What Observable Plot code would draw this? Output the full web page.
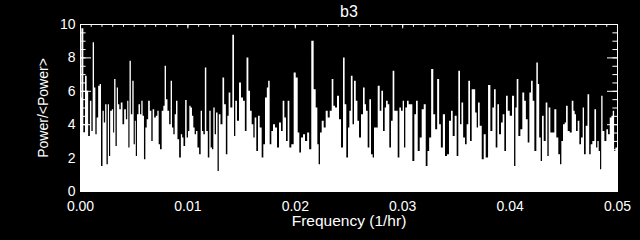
<!DOCTYPE html>
<html><head><meta charset="utf-8">
<script src="https://cdn.jsdelivr.net/npm/d3@7"></script>
<script src="https://cdn.jsdelivr.net/npm/@observablehq/plot@0.6"></script>
<style>
html,body{margin:0;padding:0;background:#000;}
#chart svg{display:block;}
</style></head><body><div id="chart"></div>
<script>
// Periodogram "b3": frequency (1/hr) and normalised power
const freq = [
0.00000,0.00025,0.00037,0.00056,0.00068,0.00084,0.00100,0.00112,0.00124,0.00137,
0.00149,0.00161,0.00177,0.00189,0.00202,0.00217,0.00226,0.00242,0.00251,0.00267,
0.00273,0.00289,0.00304,0.00313,0.00323,0.00338,0.00347,0.00360,0.00372,0.00388,
0.00403,0.00419,0.00435,0.00444,0.00456,0.00466,0.00481,0.00493,0.00506,0.00515,
0.00524,0.00537,0.00552,0.00565,0.00577,0.00589,0.00602,0.00615,0.00627,0.00642,
0.00658,0.00670,0.00683,0.00698,0.00714,0.00726,0.00739,0.00751,0.00770,0.00782,
0.00794,0.00807,0.00822,0.00838,0.00850,0.00863,0.00875,0.00888,0.00900,0.00915,
0.00931,0.00947,0.00956,0.00971,0.00987,0.00999,0.01012,0.01024,0.01036,0.01049,
0.01061,0.01074,0.01086,0.01101,0.01117,0.01130,0.01142,0.01155,0.01170,0.01182,
0.01198,0.01210,0.01223,0.01235,0.01248,0.01260,0.01273,0.01288,0.01297,0.01319,
0.01334,0.01350,0.01366,0.01378,0.01390,0.01409,0.01428,0.01440,0.01452,0.01471,
0.01490,0.01508,0.01527,0.01543,0.01558,0.01577,0.01589,0.01608,0.01620,0.01632,
0.01651,0.01664,0.01682,0.01701,0.01713,0.01732,0.01747,0.01757,0.01775,0.01788,
0.01806,0.01825,0.01844,0.01862,0.01881,0.01893,0.01912,0.01924,0.01943,0.01955,
0.01980,0.01999,0.02018,0.02036,0.02048,0.02067,0.02086,0.02104,0.02126,0.02141,
0.02166,0.02185,0.02204,0.02216,0.02228,0.02241,0.02260,0.02278,0.02297,0.02316,
0.02334,0.02353,0.02365,0.02384,0.02402,0.02421,0.02440,0.02458,0.02470,0.02489,
0.02502,0.02514,0.02530,0.02545,0.02558,0.02577,0.02589,0.02607,0.02626,0.02644,
0.02657,0.02669,0.02688,0.02700,0.02719,0.02731,0.02744,0.02763,0.02781,0.02800,
0.02812,0.02831,0.02843,0.02856,0.02874,0.02886,0.02905,0.02917,0.02936,0.02949,
0.02967,0.02980,0.02998,0.03011,0.03023,0.03035,0.03054,0.03066,0.03085,0.03104,
0.03122,0.03135,0.03154,0.03172,0.03191,0.03210,0.03228,0.03243,0.03259,0.03280,
0.03299,0.03315,0.03336,0.03352,0.03368,0.03389,0.03408,0.03426,0.03445,0.03464,
0.03476,0.03501,0.03513,0.03532,0.03544,0.03560,0.03575,0.03594,0.03606,0.03625,
0.03638,0.03656,0.03672,0.03687,0.03700,0.03712,0.03731,0.03750,0.03768,0.03787,
0.03812,0.03830,0.03849,0.03861,0.03880,0.03892,0.03911,0.03929,0.03942,0.03960,
0.03973,0.03992,0.04010,0.04035,0.04048,0.04060,0.04072,0.04091,0.04109,0.04128,
0.04144,0.04159,0.04178,0.04190,0.04209,0.04221,0.04240,0.04258,0.04268,0.04283,
0.04296,0.04308,0.04327,0.04345,0.04358,0.04370,0.04389,0.04407,0.04426,0.04444,
0.04463,0.04476,0.04488,0.04507,0.04519,0.04532,0.04550,0.04569,0.04588,0.04600,
0.04612,0.04625,0.04643,0.04656,0.04674,0.04687,0.04699,0.04718,0.04733,0.04749,
0.04761,0.04780,0.04799,0.04811,0.04823,0.04836,0.04848,0.04858,0.04873,0.04892,
0.04910,0.04923,0.04942,0.04954,0.04967,0.04979,0.04991,0.05000
];
const power = [
5.6,9.75,3.5,6.9,6.0,3.3,5.4,3.6,8.9,6.2,
3.4,4.4,6.3,6.4,1.5,4.8,4.1,5.2,1.6,5.2,
2.1,4.8,4.9,3.5,6.7,2.7,6.2,5.2,4.9,5.3,
4.0,4.9,4.3,5.4,2.6,7.8,4.6,6.6,2.8,4.2,
2.1,4.6,5.2,4.6,5.4,4.5,1.9,3.8,4.3,5.4,
4.8,3.0,4.9,4.4,4.5,4.8,2.8,2.5,4.8,5.1,
7.5,5.5,4.8,4.0,6.6,3.8,3.4,4.6,5.4,3.1,
2.0,3.4,3.2,2.7,5.45,3.2,3.6,5.1,5.0,4.5,
3.8,3.4,3.6,2.6,2.2,4.8,3.6,3.4,7.4,3.6,
2.0,4.8,2.6,2.5,5.0,3.4,4.7,1.2,4.6,4.0,
6.8,5.2,2.2,4.5,5.9,5.0,9.35,3.3,5.4,4.2,
6.5,5.6,5.4,3.6,8.0,6.0,4.8,4.0,3.2,4.4,
2.4,4.5,3.8,2.0,2.8,5.6,6.2,6.6,2.8,3.6,
4.0,3.8,2.6,4.1,3.6,5.4,4.4,3.0,5.4,2.6,
2.8,7.1,6.8,3.5,2.3,3.2,3.4,3.0,3.5,2.5,
9.0,6.1,5.0,2.8,1.6,3.5,4.2,3.8,4.8,4.4,
4.8,6.7,5.1,5.0,5.7,4.3,2.6,8.0,5.2,2.0,
3.8,4.8,6.9,4.0,6.6,5.4,4.2,3.2,4.6,6.2,
5.2,4.8,2.6,5.5,2.2,2.0,3.8,3.8,6.3,4.8,
6.0,3.6,5.0,5.4,5.2,2.6,4.2,7.2,4.8,4.8,
2.0,5.0,4.8,5.4,2.6,5.0,5.4,5.2,5.2,1.8,
4.6,5.4,2.4,3.2,4.9,5.2,1.5,2.4,3.2,7.3,
4.6,3.7,6.7,4.0,2.6,4.6,2.1,2.2,4.2,4.8,
3.3,4.5,2.1,7.2,4.0,5.3,3.2,2.8,4.0,6.6,
3.0,6.1,6.1,4.7,3.8,5.3,3.9,1.9,3.4,2.0,
6.35,3.6,5.0,6.1,2.6,5.2,3.4,4.1,4.6,2.4,
5.7,4.8,4.5,5.7,1.5,5.0,6.7,3.3,3.7,5.9,
5.4,4.3,2.9,5.9,6.6,5.4,2.4,7.7,6.4,3.2,
1.8,4.5,3.0,5.3,2.1,5.0,3.5,3.5,4.9,3.2,
2.2,1.6,3.0,4.0,4.1,5.1,3.6,3.5,5.4,4.8,
4.6,3.6,4.2,2.8,3.2,5.0,2.2,3.9,5.8,2.2,
2.8,3.0,4.9,2.6,3.0,2.4,1.3,5.7,3.6,3.0,
3.7,3.4,4.4,4.5,4.8,2.4,2.6,2.6
];
const xTickValues = [0, 0.01, 0.02, 0.03, 0.04, 0.05];
const xTickLabels = ["0.00", "0.01", "0.02", "0.03", "0.04", "0.05"];
const yTickValues = [0, 2, 4, 6, 8, 10];
const yTickLabels = ["0", "2", "4", "6", "8", "10"];
const titleText = "b3";
const xTitle = "Frequency (1/hr)";
const yTitle = "Power/<Power>";

const data = freq.map((f, i) => ({f, p: power[i]}));
const xMinor = d3.range(0, 51).map(i => i / 1000);
const yMinor = d3.range(0, 21).map(i => i / 2);
const xFmt = v => xTickLabels[xTickValues.findIndex(t => Math.abs(t - v) < 1e-9)];
const yFmt = v => yTickLabels[yTickValues.indexOf(v)];
const blank = () => "";

const chart = Plot.plot({
  width: 640, height: 240,
  marginLeft: 80, marginRight: 23, marginTop: 24, marginBottom: 49,
  style: {background: "#000", color: "#fff", fontFamily: "'Liberation Sans', Arial, sans-serif", fontSize: "14px"},
  x: {domain: [0, 0.05], axis: null},
  y: {domain: [0, 10], axis: null},
  marks: [
    Plot.areaY(data, {x: "f", y: "p", curve: "step", fill: "#fff"}),
    Plot.frame({stroke: "#fff"}),
    // inward tick marks on all four sides
    Plot.axisX(xMinor, {anchor: "bottom", tickSize: -1.8, tickFormat: blank, label: null, stroke: "#fff"}),
    Plot.axisX(xMinor, {anchor: "top", tickSize: -1.8, tickFormat: blank, label: null, stroke: "#fff"}),
    Plot.axisX(xTickValues, {anchor: "bottom", tickSize: -3.4, tickFormat: blank, label: null, stroke: "#fff"}),
    Plot.axisX(xTickValues, {anchor: "top", tickSize: -3.4, tickFormat: blank, label: null, stroke: "#fff"}),
    Plot.axisY(yMinor, {anchor: "left", tickSize: -5.6, tickFormat: blank, label: null, stroke: "#fff"}),
    Plot.axisY(yMinor, {anchor: "right", tickSize: -5.6, tickFormat: blank, label: null, stroke: "#fff"}),
    Plot.axisY(yTickValues, {anchor: "left", tickSize: -11, tickFormat: blank, label: null, stroke: "#fff"}),
    Plot.axisY(yTickValues, {anchor: "right", tickSize: -11, tickFormat: blank, label: null, stroke: "#fff"}),
    // tick labels
    Plot.axisX(xTickValues, {anchor: "bottom", tickSize: 0, tickPadding: 10, tickFormat: xFmt, label: null, fill: "#fff"}),
    Plot.axisY(yTickValues, {anchor: "left", tickSize: 0, tickPadding: 5, tickFormat: yFmt, label: null, fill: "#fff"}),
    // titles
    Plot.text([titleText], {text: d => d, frameAnchor: "top", dy: -13, lineAnchor: "middle", textAnchor: "middle", fill: "#fff", fontSize: 16}),
    Plot.text([xTitle], {text: d => d, frameAnchor: "bottom", dy: 30, lineAnchor: "middle", textAnchor: "middle", fill: "#fff", fontSize: 15.5}),
    Plot.text([yTitle], {text: d => d, frameAnchor: "left", dx: -37, rotate: -90, lineAnchor: "middle", textAnchor: "middle", fill: "#fff", fontSize: 14})
  ]
});
document.getElementById("chart").appendChild(chart);
</script>
</body></html>
